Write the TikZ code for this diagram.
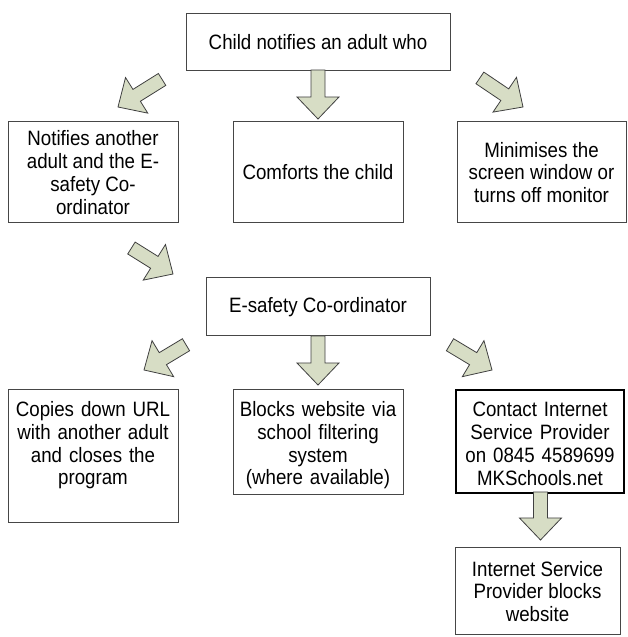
\documentclass[tikz,border=0pt]{standalone}
\usepackage{fontspec}
\setmainfont{Liberation Sans}[FakeStretch=0.9]
\usetikzlibrary{calc}

\definecolor{arrowfill}{RGB}{215,221,197}
\definecolor{boxline}{RGB}{70,70,70}

\tikzset{
	infobox/.style={draw=boxline, line width=1pt, align=center, inner sep=0pt,
		font=\fontsize{20.8}{22.8}\selectfont},
	keybox/.style={infobox, draw=black, line width=2pt},
	% text from the top, as in a text box
	topbox/.style={text width=158pt, text height=27pt},
	arrowline/.style={draw=black!75, fill=arrowfill, line width=0.8pt, line join=miter},
	% block arrow, tip at the origin, pointing along +x
	pics/blockarrow/.style={code={
		\path[arrowline] (0,0) -- (-22,21) -- (-22,7) -- ({-22-#1},7)
			-- ({-22-#1},-7) -- (-22,-7) -- (-22,-21) -- cycle;
	}}
}

\begin{document}
\begin{tikzpicture}[x=1pt, y=1pt]
	\useasboundingbox (0,0) rectangle (627,637);

	% first level
	\node[infobox, minimum width=264pt, minimum height=57pt] (child) at (318,594.5) {Child notifies an adult who};
	\node[infobox, minimum width=170pt, minimum height=101pt] (notify) at (93,464.5)
		{Notifies another\\adult and the E-\\safety Co-\\ordinator};
	\node[infobox, minimum width=170pt, minimum height=101pt] (comfort) at (318,464.5) {Comforts the child};
	\node[infobox, minimum width=169pt, minimum height=101pt] (minimise) at (541.5,464.5)
		{Minimises the\\screen window or\\turns off monitor};

	% second level
	\node[infobox, minimum width=224pt, minimum height=58pt] (coord) at (318,330) {E-safety Co-ordinator};
	\node[infobox, topbox, anchor=north, minimum width=170pt, text depth=106pt] (copies) at (93,248)
		{Copies down URL\\with another adult\\and closes the\\program};
	\node[infobox, topbox, anchor=north, minimum width=170pt, text depth=78pt] (blocks) at (318,248)
		{Blocks website via\\school filtering\\system\\(where available)};
	\node[keybox, topbox, anchor=north, minimum width=168pt, text depth=76pt] (contact) at (540,248)
		{Contact Internet\\Service Provider\\on 0845 4589699\\MKSchools.net};
	\node[infobox, minimum width=165pt, minimum height=87pt] (isp) at (537.5,45.5)
		{Internet Service\\Provider blocks\\website};

	% block arrows
	\pic[rotate=212] at (118,530) {blockarrow=30};
	\pic[rotate=-90] at (318,518) {blockarrow=27};
	\pic[rotate=-34] at (523,530) {blockarrow=30};
	\pic[rotate=-32] at (173,363) {blockarrow=27};
	\pic[rotate=211] at (144,267) {blockarrow=27};
	\pic[rotate=-90] at (318,252) {blockarrow=27};
	\pic[rotate=-31] at (492,267) {blockarrow=27};
	\pic[rotate=-90] at (540.5,97) {blockarrow=26};
\end{tikzpicture}
\end{document}
